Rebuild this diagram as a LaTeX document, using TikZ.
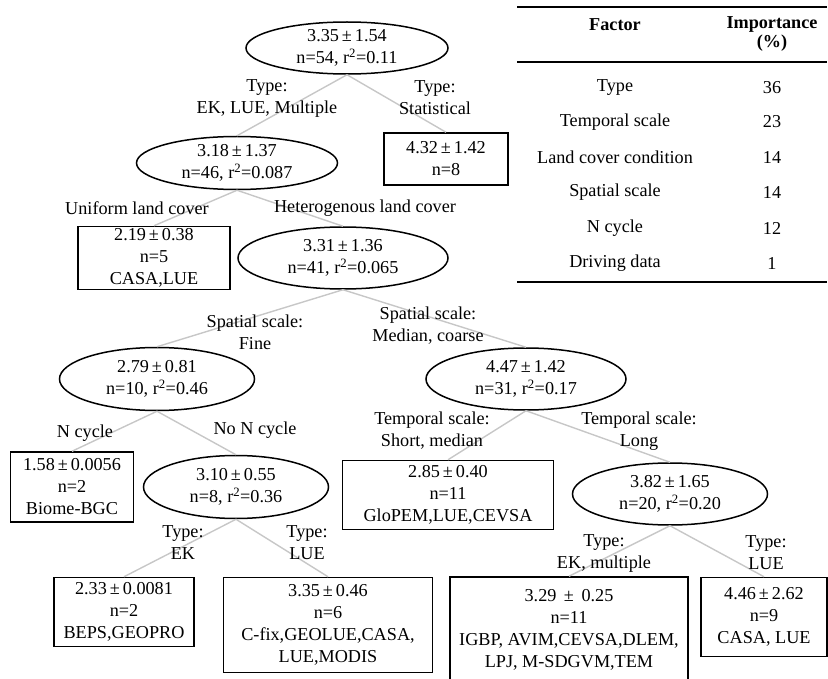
\documentclass[tikz,border=0pt]{standalone}
\usepackage{fontspec}
\setmainfont{Liberation Serif}
\usetikzlibrary{shapes.geometric}
\newcommand{\pmx}{\hspace{3pt}±\hspace{3pt}}
\begin{document}
\begin{tikzpicture}[x=1pt,y=-1pt,
  every node/.style={font=\fontsize{18.2}{22}\selectfont, align=center},
  ell/.style={draw, ellipse, line width=1.5pt, inner xsep=0pt, inner ysep=-6pt},
  box/.style={draw, rectangle, line width=1.5pt, inner sep=0pt},
  conn/.style={draw=black!22, line width=1.4pt},
  lab/.style={inner sep=0pt},
  rule/.style={line width=1.4pt},
  hd/.style={font=\fontsize{18.2}{19}\selectfont\bfseries}]
\useasboundingbox (0,0) rectangle (828,679);

% tree nodes
\node[ell, minimum width=202pt, minimum height=52pt] (n0) at (347,48) {3.35\pmx1.54\\n=54, r\textsuperscript{2}=0.11};
\node[ell, minimum width=201pt, minimum height=53pt] (n1) at (237,163) {3.18\pmx1.37\\n=46, r\textsuperscript{2}=0.087};
\node[box, minimum width=124pt, minimum height=52pt] (b1) at (446,159) {4.32\pmx1.42\\n=8};
\node[box, minimum width=152pt, minimum height=63pt] (b2) at (154,258) {2.19\pmx0.38\\n=5\\CASA,LUE};
\node[ell, minimum width=210pt, minimum height=62pt] (n2) at (343,258) {3.31\pmx1.36\\n=41, r\textsuperscript{2}=0.065};
\node[ell, minimum width=195pt, minimum height=63pt] (n3) at (157,379) {2.79\pmx0.81\\n=10, r\textsuperscript{2}=0.46};
\node[ell, minimum width=200pt, minimum height=62pt] (n4) at (526,379) {4.47\pmx1.42\\n=31, r\textsuperscript{2}=0.17};
\node[box, minimum width=123pt, minimum height=70pt] (b3) at (72,487) {1.58\pmx0.0056\\n=2\\Biome-BGC};
\node[ell, minimum width=185pt, minimum height=63pt] (n5) at (236,487) {3.10\pmx0.55\\n=8, r\textsuperscript{2}=0.36};
\node[box, minimum width=211pt, minimum height=69pt] (b4) at (448,495) {2.85\pmx0.40\\n=11\\GloPEM,LUE,CEVSA};
\node[ell, minimum width=195pt, minimum height=62pt] (n6) at (670,494) {3.82\pmx1.65\\n=20, r\textsuperscript{2}=0.20};
\node[box, minimum width=140pt, minimum height=69pt] (b5) at (124,612) {2.33\pmx0.0081\\n=2\\BEPS,GEOPRO};
\node[box, minimum width=209pt, minimum height=95pt] (b6) at (328,625) {3.35\pmx0.46\\n=6\\C-fix,GEOLUE,CASA,\\LUE,MODIS};
\node[box, minimum width=238pt, minimum height=106pt] (b7) at (569,630) {3.29 \pmx{} 0.25\\n=11\\IGBP, AVIM,CEVSA,DLEM,\\LPJ, M-SDGVM,TEM};
\node[box, minimum width=126pt, minimum height=79pt] (b8) at (764,617) {4.46\pmx2.62\\n=9\\CASA, LUE};

% connectors
\draw[conn] (n0.south) -- (n1.north);
\draw[conn] (n0.south) -- (b1.north);
\draw[conn] (n1.south) -- (b2.north);
\draw[conn] (n1.south) -- (n2.north);
\draw[conn] (n2.south) -- (n3.north);
\draw[conn] (n2.south) -- (n4.north);
\draw[conn] (n3.south) -- (b3.north);
\draw[conn] (n3.south) -- (n5.north);
\draw[conn] (n5.south) -- (b5.north);
\draw[conn] (n5.south) -- (b6.north);
\draw[conn] (n4.south) -- (b4.north);
\draw[conn] (n4.south) -- (n6.north);
\draw[conn] (n6.south) -- (b7.north);
\draw[conn] (n6.south) -- (b8.north);

% edge labels
\node[lab] (l1) at (267,98) {Type:\\EK, LUE, Multiple};
\node[lab] (l2) at (435,98) {Type:\\Statistical};
\node[lab] (l3) at (137,208) {Uniform land cover};
\node[lab] (l4) at (365,208) {Heterogenous land cover};
\node[lab] (l5) at (255,332) {Spatial scale:\\Fine};
\node[lab] (l6) at (428,326) {Spatial scale:\\Median, coarse};
\node[lab] (l7) at (85,433) {N cycle};
\node[lab] (l8) at (255,430) {No N cycle};
\node[lab] (l9) at (183,543) {Type:\\EK};
\node[lab] (l10) at (307,543) {Type:\\LUE};
\node[lab] (l11) at (432,431) {Temporal scale:\\Short, median};
\node[lab] (l12) at (639,431) {Temporal scale:\\Long};
\node[lab] (l13) at (604,553) {Type:\\EK, multiple};
\node[lab] (l14) at (766,553) {Type:\\LUE};

% table
\coordinate (ta) at (517,7);  \coordinate (tb) at (827,7);
\coordinate (ma) at (517,62); \coordinate (mb) at (827,62);
\coordinate (ba) at (517,282); \coordinate (bb) at (827,282);
\draw[rule] (ta) -- (tb);
\draw[line width=1.1pt] (ma) -- (mb);
\draw[rule] (ba) -- (bb);
\node[hd] (h1) at (615,25) {Factor};
\node[hd] (h2) at (772,34) {Importance\\(\%)};
\node (r1a) at (615,88) {Type};                 \node (r1b) at (772,88) {36};
\node (r2a) at (615,122) {Temporal scale};      \node (r2b) at (772,122) {23};
\node (r3a) at (615,157) {Land cover condition};\node (r3b) at (772,157) {14};
\node (r4a) at (615,192) {Spatial scale};       \node (r4b) at (772,192) {14};
\node (r5a) at (615,228) {N cycle};             \node (r5b) at (772,228) {12};
\node (r6a) at (615,263) {Driving data};        \node (r6b) at (772,263) {1};
\end{tikzpicture}
\end{document}
